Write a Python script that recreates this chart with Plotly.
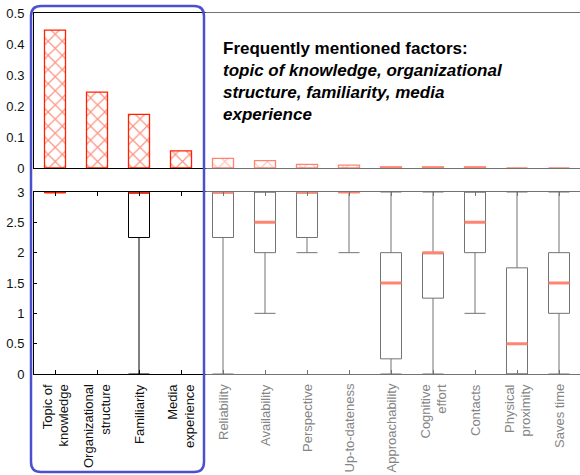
import plotly.graph_objects as go

# Categories (factor names) shared by both panels
categories = ["Topic of knowledge", "Organizational structure", "Familiarity",
              "Media experience", "Reliability", "Availability", "Perspective",
              "Up-to-dateness", "Approachability", "Cognitive effort", "Contacts",
              "Physical proximity", "Saves time"]
tick_labels = ["Topic of<br>knowledge", "Organizational<br>structure", "Familiarity",
               "Media<br>experience", "Reliability", "Availability", "Perspective",
               "Up-to-dateness", "Approachability", "Cognitive<br>effort", "Contacts",
               "Physical<br>proximity", "Saves time"]
highlighted = ["Topic of knowledge", "Organizational structure", "Familiarity",
               "Media experience"]

# Top panel: share of mentions per factor
mention_share = [0.445, 0.245, 0.173, 0.055, 0.031, 0.024, 0.012, 0.009,
                 0.004, 0.004, 0.004, 0.0, 0.0]

# Bottom panel: rating distribution summaries
box_categories = ["Topic of knowledge", "Familiarity", "Reliability", "Availability",
                  "Perspective", "Up-to-dateness", "Approachability", "Cognitive effort",
                  "Contacts", "Physical proximity", "Saves time"]
box_lower = [3, 0, 0, 1, 2, 2, 0, 0, 1, 0, 0]
box_q1 = [3, 2.25, 2.25, 2, 2.25, 3, 0.25, 1.25, 2, 0, 1]
box_median = [3, 3, 3, 2.5, 3, 3, 1.5, 2, 2.5, 0.5, 1.5]
box_q3 = [3, 3, 3, 3, 3, 3, 2, 2, 3, 1.75, 2]
box_upper = [3, 3, 3, 3, 3, 3, 3, 3, 3, 3, 3]

RED = "#ff2200"
FONT = "Liberation Sans, Arial, sans-serif"
TEXT = "#111111"
TEXT_FADED = "#858585"

# Page geometry (pixels) used to place decorations in paper coordinates
W, H = 580, 475
ML, MR, MT, MB = 34, 0, 13, 101
PW, PH = W - ML - MR, H - MT - MB


def px(x):
    return (x - ML) / PW


def py(y):
    return (H - MB - y) / PH


fig = go.Figure()

fig.add_trace(go.Bar(
    x=categories, y=mention_share, width=0.5,
    marker=dict(color="white", line=dict(color=RED, width=1.3),
                pattern=dict(shape="x", fgcolor=RED, bgcolor="white",
                             size=10, solidity=0.22)),
    xaxis="x", yaxis="y", hoverinfo="skip", showlegend=False))

fig.add_trace(go.Box(
    x=box_categories, q1=box_q1, median=box_median, q3=box_q3,
    lowerfence=box_lower, upperfence=box_upper,
    width=0.5, whiskerwidth=1, boxpoints=False,
    line=dict(color="black", width=1), fillcolor="rgba(0,0,0,0)",
    xaxis="x2", yaxis="y2", hoverinfo="skip", showlegend=False))

# Median markers drawn as flat red boxes on top
fig.add_trace(go.Box(
    x=box_categories, q1=box_median, median=box_median, q3=box_median,
    lowerfence=box_median, upperfence=box_median,
    width=0.5, whiskerwidth=0, boxpoints=False,
    line=dict(color=RED, width=3), fillcolor="rgba(0,0,0,0)",
    xaxis="x2", yaxis="y2", hoverinfo="skip", showlegend=False))

top_lo = py(168)
bot_hi = py(192)

axis_common = dict(type="category", categoryorder="array", categoryarray=categories,
                   range=[-0.5, len(categories) - 0.5], showgrid=False, zeroline=False,
                   showline=True, linecolor="black", linewidth=1)

fig.update_layout(
    width=W, height=H,
    margin=dict(l=ML, r=MR, t=MT, b=MB, pad=0),
    paper_bgcolor="white", plot_bgcolor="white",
    font=dict(family=FONT, size=13, color=TEXT),
    boxmode="overlay",
    xaxis=dict(axis_common, domain=[0, 1], anchor="y", mirror=True,
               ticks="", showticklabels=False),
    yaxis=dict(domain=[top_lo, 1], anchor="x", range=[0, 0.5], dtick=0.1,
               showgrid=False, zeroline=False, showline=True, linecolor="black",
               ticks="", ticklabelstandoff=6),
    xaxis2=dict(axis_common, domain=[0, 1], anchor="y2", mirror="ticks",
                ticks="inside", ticklen=4, tickcolor="black",
                tickvals=categories, showticklabels=False),
    yaxis2=dict(domain=[0, bot_hi], anchor="x2", range=[0, 3], dtick=0.5,
                showgrid=False, zeroline=False, showline=True, linecolor="black",
                ticks="inside", ticklen=3, tickcolor="black", ticklabelstandoff=6),
)

# Rotated category labels, multi-line ones aligned toward the axis
for cat, lab in zip(categories, tick_labels):
    fig.add_annotation(
        x=cat, xref="x2", y=py(382), yref="paper", xanchor="center", yanchor="top",
        textangle=-90, align="right", showarrow=False,
        font=dict(family=FONT, size=13,
                  color=TEXT if cat in highlighted else TEXT_FADED),
        text=lab)

# Fade the less frequently mentioned factors
fig.add_shape(type="rect", xref="paper", yref="paper",
              x0=px(205.5), x1=px(W + 20), y0=py(H + 20), y1=py(-20),
              fillcolor="rgba(255,255,255,0.45)", line=dict(width=0), layer="above")

# Rounded frame around the frequently mentioned factors
L, R, T, B, r = 31, 204, 6, 472, 10
path = (f"M {px(L + r)},{py(T)} L {px(R - r)},{py(T)} "
        f"Q {px(R)},{py(T)} {px(R)},{py(T + r)} "
        f"L {px(R)},{py(B - r)} Q {px(R)},{py(B)} {px(R - r)},{py(B)} "
        f"L {px(L + r)},{py(B)} Q {px(L)},{py(B)} {px(L)},{py(B - r)} "
        f"L {px(L)},{py(T + r)} Q {px(L)},{py(T)} {px(L + r)},{py(T)} Z")
fig.add_shape(type="path", xref="paper", yref="paper", path=path,
              line=dict(color="#4b50cf", width=2.5), fillcolor="rgba(0,0,0,0)",
              layer="above")

fig.add_annotation(
    xref="paper", yref="paper", x=px(221), y=py(82), xanchor="left", yanchor="middle",
    align="left", showarrow=False,
    font=dict(family=FONT, size=17, color="black"),
    text=("<b>Frequently mentioned factors:</b><br>"
          "<b><i>topic of knowledge, organizational</i></b><br>"
          "<b><i>structure, familiarity, media</i></b><br>"
          "<b><i>experience</i></b>"))

fig.write_html("out.html")
